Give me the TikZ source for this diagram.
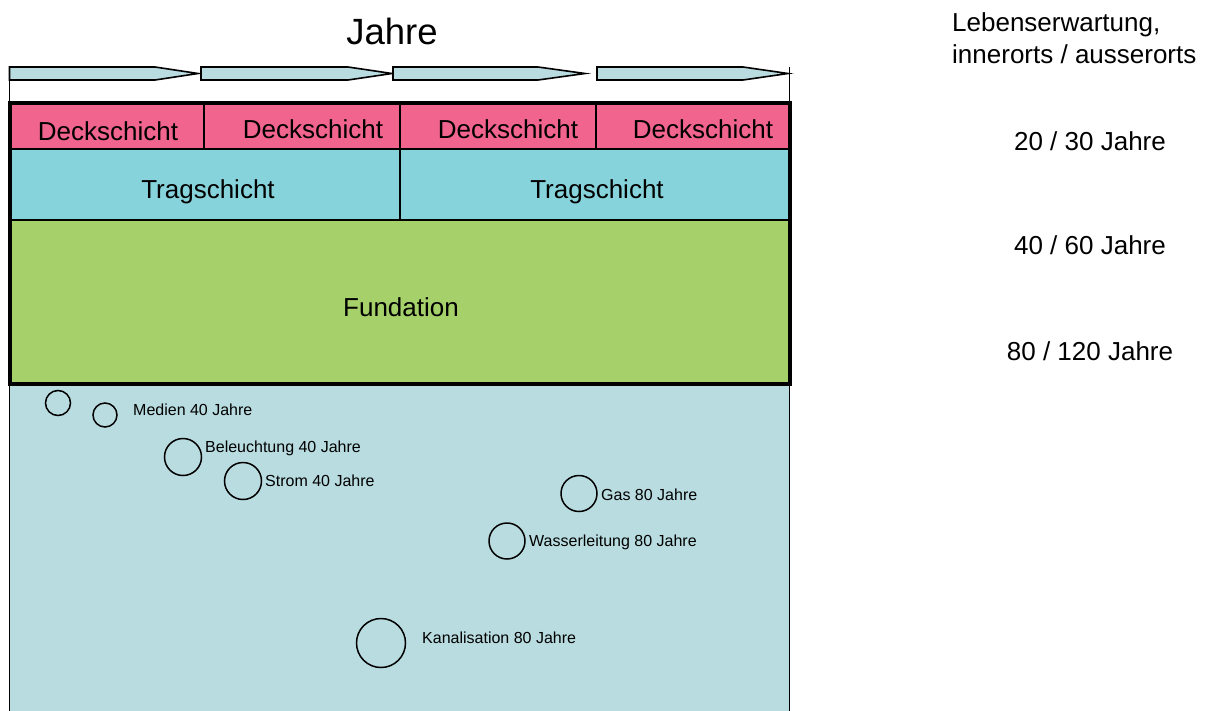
\documentclass[tikz,border=0pt]{standalone}
\usepackage{fontspec}
\setmainfont{Liberation Sans}
\definecolor{deckpink}{RGB}{240,100,142}
\definecolor{tragblue}{RGB}{134,211,220}
\definecolor{fundgreen}{RGB}{166,208,106}
\definecolor{soilblue}{RGB}{184,220,224}
\begin{document}
\begin{tikzpicture}[x=1pt,y=-1pt,
  txt/.style={inner sep=0pt,font=\fontsize{26}{30}\selectfont},
  small/.style={inner sep=0pt,anchor=base west,font=\fontsize{16}{18}\selectfont},
  pipe/.style={circle,draw,line width=1.5pt,inner sep=0pt,minimum size=#1},
  yeararrow/.style={draw,fill=soilblue,line width=1.6pt,line join=miter},
  layer/.style={draw,line width=2.2pt}]
\useasboundingbox (0,0) rectangle (1210,710);

% ground with pipes
\fill[soilblue] (9.5,384) rectangle (789.5,712);
\draw[line width=1.6pt] (9.5,384) -- (9.5,712);
\draw[line width=1.6pt] (789.5,384) -- (789.5,712);

% road layers
\path[layer,fill=deckpink] (9.5,103) rectangle (204,149);
\path[layer,fill=deckpink] (204,103) rectangle (400,149);
\path[layer,fill=deckpink] (400,103) rectangle (596,149);
\path[layer,fill=deckpink] (596,103) rectangle (789.5,149);
\path[layer,fill=tragblue] (9.5,149) rectangle (400,220);
\path[layer,fill=tragblue] (400,149) rectangle (789.5,220);
\path[layer,fill=fundgreen] (9.5,220) rectangle (789.5,384);
\draw[line width=4pt] (9.5,103) rectangle (789.5,384);

\node[txt,anchor=base] (d1) at (108,140) {Deckschicht};
\node[txt,anchor=base] (d2) at (313,138) {Deckschicht};
\node[txt,anchor=base] (d3) at (508,138) {Deckschicht};
\node[txt,anchor=base] (d4) at (703,138) {Deckschicht};
\node[txt,anchor=base] (t1) at (208,198) {Tragschicht};
\node[txt,anchor=base] (t2) at (597,198) {Tragschicht};
\node[txt,anchor=base] (f1) at (401,316) {Fundation};

% time axis
\node[inner sep=0pt,anchor=base,font=\fontsize{36.5}{40}\selectfont] (title) at (392,44) {Jahre};
\draw[line width=1.5pt] (9.5,67) -- (9.5,103);
\draw[line width=1.5pt] (789.5,67) -- (789.5,103);
\path[yeararrow] (9.5,67) -- (155,67) -- (198,73.5) -- (155,80) -- (9.5,80) -- cycle;
\path[yeararrow] (201,67) -- (348,67) -- (392,73.5) -- (348,80) -- (201,80) -- cycle;
\path[yeararrow] (393,67) -- (538,67) -- (585,73.5) -- (538,80) -- (393,80) -- cycle;
\path[yeararrow] (597,67) -- (743,67) -- (788,73.5) -- (743,80) -- (597,80) -- cycle;

% life expectancy column
\node[txt,anchor=base west] (le1) at (952,31) {Lebenserwartung,};
\node[txt,anchor=base west] (le2) at (952,63) {innerorts / ausserorts};
\node[txt,anchor=base] (y1) at (1090,150) {20 / 30 Jahre};
\node[txt,anchor=base] (y2) at (1090,254) {40 / 60 Jahre};
\node[txt,anchor=base] (y3) at (1090,360) {80 / 120 Jahre};

% pipes
\node[pipe=25pt] (p0) at (58,403) {};
\node[pipe=24pt] (p1) at (105,415) {};
\node[pipe=37pt] (p2) at (183,457) {};
\node[pipe=37pt] (p3) at (243,481) {};
\node[pipe=36pt] (p4) at (579,493.5) {};
\node[pipe=36pt] (p5) at (507,541) {};
\node[pipe=49pt] (p6) at (381,643) {};

\node[small] (l1) at (133,415) {Medien 40 Jahre};
\node[small] (l2) at (205,452) {Beleuchtung 40 Jahre};
\node[small] (l3) at (265,486.5) {Strom 40 Jahre};
\node[small] (l4) at (601,500) {Gas 80 Jahre};
\node[small] (l5) at (529,546.5) {Wasserleitung 80 Jahre};
\node[small] (l6) at (422,643) {Kanalisation 80 Jahre};
\end{tikzpicture}
\end{document}
